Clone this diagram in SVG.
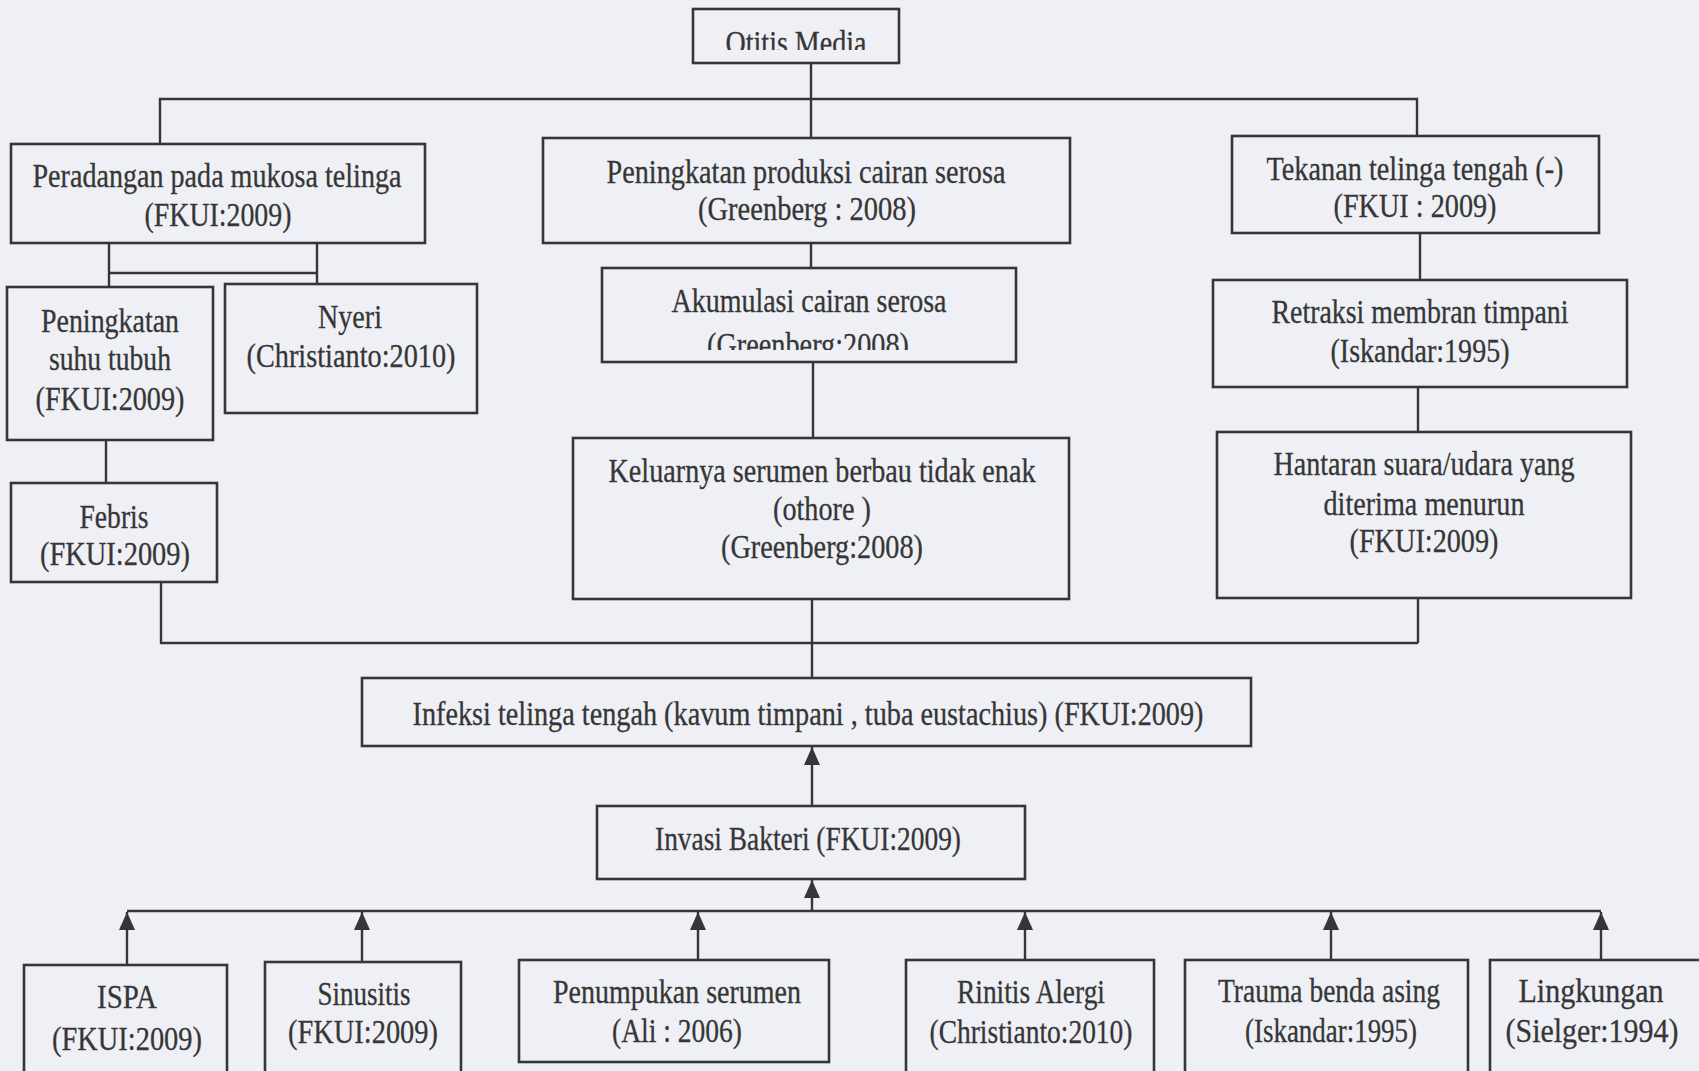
<svg xmlns="http://www.w3.org/2000/svg" width="1699" height="1071" viewBox="0 0 1699 1071">
<style>
.bg{fill:#eef0f5}
.box{fill:none;stroke:#363636;stroke-width:2.6}
.t{font-family:"Liberation Serif","Times New Roman",serif;font-size:34px;fill:#363636;stroke:#363636;stroke-width:0.3;text-anchor:middle}
.c{fill:none;stroke:#363636;stroke-width:2.4}
</style>
<defs>
<marker id="arr" markerUnits="userSpaceOnUse" viewBox="0 0 18 16" refX="18" refY="8" markerWidth="18" markerHeight="16" orient="auto">
<path d="M0,0 L18,8 L0,16 z" fill="#363636"/>
</marker>
<clipPath id="clipOtitis"><rect x="693" y="9" width="206" height="41"/></clipPath>
<clipPath id="clipAkum"><rect x="602" y="268" width="414" height="82"/></clipPath>
</defs>
<rect class="bg" x="0" y="0" width="1699" height="1071"/>

<g id="connectors">
<path class="c" d="M811,63 V138"/>
<path class="c" d="M160,144 V99 H1417 V136"/>
<path class="c" d="M811,243 V268"/>
<path class="c" d="M109,244 V287"/>
<path class="c" d="M317,244 V284"/>
<path class="c" d="M109,273 H317"/>
<path class="c" d="M106,440 V483"/>
<path class="c" d="M161,582 V643 H1418"/>
<path class="c" d="M813,362 V438"/>
<path class="c" d="M812,599 V678"/>
<path class="c" d="M1420,233 V280"/>
<path class="c" d="M1418,387 V432"/>
<path class="c" d="M1418,598 V643"/>
<path class="c" d="M812,806 V747" marker-end="url(#arr)"/>
<path class="c" d="M812,911 V880" marker-end="url(#arr)"/>
<path class="c" d="M127,911 H1601"/>
<path class="c" d="M127,965 V912" marker-end="url(#arr)"/>
<path class="c" d="M362,962 V912" marker-end="url(#arr)"/>
<path class="c" d="M698,960 V912" marker-end="url(#arr)"/>
<path class="c" d="M1025,960 V912" marker-end="url(#arr)"/>
<path class="c" d="M1331,960 V912" marker-end="url(#arr)"/>
<path class="c" d="M1601,960 V912" marker-end="url(#arr)"/>
</g>

<g id="otitis">
<rect class="box" x="693" y="9" width="206" height="54"/>
<text class="t" x="796" y="54" textLength="141" lengthAdjust="spacingAndGlyphs" clip-path="url(#clipOtitis)">Otitis Media</text>
</g>
<g id="peradangan">
<rect class="box" x="11" y="144" width="414" height="99"/>
<text class="t" x="217" y="187" textLength="369" lengthAdjust="spacingAndGlyphs">Peradangan pada mukosa telinga</text>
<text class="t" x="218" y="226" textLength="147" lengthAdjust="spacingAndGlyphs">(FKUI:2009)</text>
</g>
<g id="produksi">
<rect class="box" x="543" y="138" width="527" height="105"/>
<text class="t" x="806" y="183" textLength="399" lengthAdjust="spacingAndGlyphs">Peningkatan produksi cairan serosa</text>
<text class="t" x="807" y="220" textLength="218" lengthAdjust="spacingAndGlyphs">(Greenberg : 2008)</text>
</g>
<g id="tekanan">
<rect class="box" x="1232" y="136" width="367" height="97"/>
<text class="t" x="1415" y="180" textLength="297" lengthAdjust="spacingAndGlyphs">Tekanan telinga tengah (-)</text>
<text class="t" x="1415" y="217" textLength="163" lengthAdjust="spacingAndGlyphs">(FKUI : 2009)</text>
</g>
<g id="suhu">
<rect class="box" x="7" y="287" width="206" height="153"/>
<text class="t" x="110" y="332" textLength="138" lengthAdjust="spacingAndGlyphs">Peningkatan</text>
<text class="t" x="110" y="370" textLength="122" lengthAdjust="spacingAndGlyphs">suhu tubuh</text>
<text class="t" x="110" y="410" textLength="149" lengthAdjust="spacingAndGlyphs">(FKUI:2009)</text>
</g>
<g id="nyeri">
<rect class="box" x="225" y="284" width="252" height="129"/>
<text class="t" x="350" y="328" textLength="64" lengthAdjust="spacingAndGlyphs">Nyeri</text>
<text class="t" x="351" y="367" textLength="209" lengthAdjust="spacingAndGlyphs">(Christianto:2010)</text>
</g>
<g id="febris">
<rect class="box" x="11" y="483" width="206" height="99"/>
<text class="t" x="114" y="528" textLength="69" lengthAdjust="spacingAndGlyphs">Febris</text>
<text class="t" x="115" y="565" textLength="150" lengthAdjust="spacingAndGlyphs">(FKUI:2009)</text>
</g>
<g id="akumulasi">
<rect class="box" x="602" y="268" width="414" height="94"/>
<text class="t" x="809" y="312" textLength="275" lengthAdjust="spacingAndGlyphs">Akumulasi cairan serosa</text>
<text class="t" x="808" y="356" textLength="202" lengthAdjust="spacingAndGlyphs" clip-path="url(#clipAkum)">(Greenberg:2008)</text>
</g>
<g id="keluarnya">
<rect class="box" x="573" y="438" width="496" height="161"/>
<text class="t" x="822" y="482" textLength="427" lengthAdjust="spacingAndGlyphs">Keluarnya serumen berbau tidak enak</text>
<text class="t" x="822" y="520" textLength="98" lengthAdjust="spacingAndGlyphs">(othore )</text>
<text class="t" x="822" y="558" textLength="202" lengthAdjust="spacingAndGlyphs">(Greenberg:2008)</text>
</g>
<g id="retraksi">
<rect class="box" x="1213" y="280" width="414" height="107"/>
<text class="t" x="1420" y="323" textLength="297" lengthAdjust="spacingAndGlyphs">Retraksi membran timpani</text>
<text class="t" x="1420" y="362" textLength="179" lengthAdjust="spacingAndGlyphs">(Iskandar:1995)</text>
</g>
<g id="hantaran">
<rect class="box" x="1217" y="432" width="414" height="166"/>
<text class="t" x="1424" y="475" textLength="301" lengthAdjust="spacingAndGlyphs">Hantaran suara/udara yang</text>
<text class="t" x="1424" y="515" textLength="201" lengthAdjust="spacingAndGlyphs">diterima menurun</text>
<text class="t" x="1424" y="552" textLength="149" lengthAdjust="spacingAndGlyphs">(FKUI:2009)</text>
</g>
<g id="infeksi">
<rect class="box" x="362" y="678" width="889" height="68"/>
<text class="t" x="808" y="725" textLength="791" lengthAdjust="spacingAndGlyphs">Infeksi telinga tengah (kavum timpani , tuba eustachius) (FKUI:2009)</text>
</g>
<g id="invasi">
<rect class="box" x="597" y="806" width="428" height="73"/>
<text class="t" x="808" y="850" textLength="306" lengthAdjust="spacingAndGlyphs">Invasi Bakteri (FKUI:2009)</text>
</g>
<g id="ispa">
<rect class="box" x="24" y="965" width="203" height="120"/>
<text class="t" x="127" y="1008" textLength="60" lengthAdjust="spacingAndGlyphs">ISPA</text>
<text class="t" x="127" y="1050" textLength="150" lengthAdjust="spacingAndGlyphs">(FKUI:2009)</text>
</g>
<g id="sinusitis">
<rect class="box" x="265" y="962" width="196" height="123"/>
<text class="t" x="364" y="1005" textLength="93" lengthAdjust="spacingAndGlyphs">Sinusitis</text>
<text class="t" x="363" y="1043" textLength="150" lengthAdjust="spacingAndGlyphs">(FKUI:2009)</text>
</g>
<g id="penumpukan">
<rect class="box" x="519" y="960" width="310" height="102"/>
<text class="t" x="677" y="1003" textLength="248" lengthAdjust="spacingAndGlyphs">Penumpukan serumen</text>
<text class="t" x="677" y="1042" textLength="130" lengthAdjust="spacingAndGlyphs">(Ali : 2006)</text>
</g>
<g id="rinitis">
<rect class="box" x="906" y="960" width="248" height="125"/>
<text class="t" x="1031" y="1003" textLength="148" lengthAdjust="spacingAndGlyphs">Rinitis Alergi</text>
<text class="t" x="1031" y="1043" textLength="203" lengthAdjust="spacingAndGlyphs">(Christianto:2010)</text>
</g>
<g id="trauma">
<rect class="box" x="1185" y="960" width="283" height="125"/>
<text class="t" x="1329" y="1002" textLength="222" lengthAdjust="spacingAndGlyphs">Trauma benda asing</text>
<text class="t" x="1331" y="1042" textLength="172" lengthAdjust="spacingAndGlyphs">(Iskandar:1995)</text>
</g>
<g id="lingkungan">
<rect class="box" x="1490" y="960" width="230" height="125"/>
<text class="t" x="1591" y="1002" textLength="145" lengthAdjust="spacingAndGlyphs">Lingkungan</text>
<text class="t" x="1592" y="1042" textLength="173" lengthAdjust="spacingAndGlyphs">(Sielger:1994)</text>
</g>
</svg>
